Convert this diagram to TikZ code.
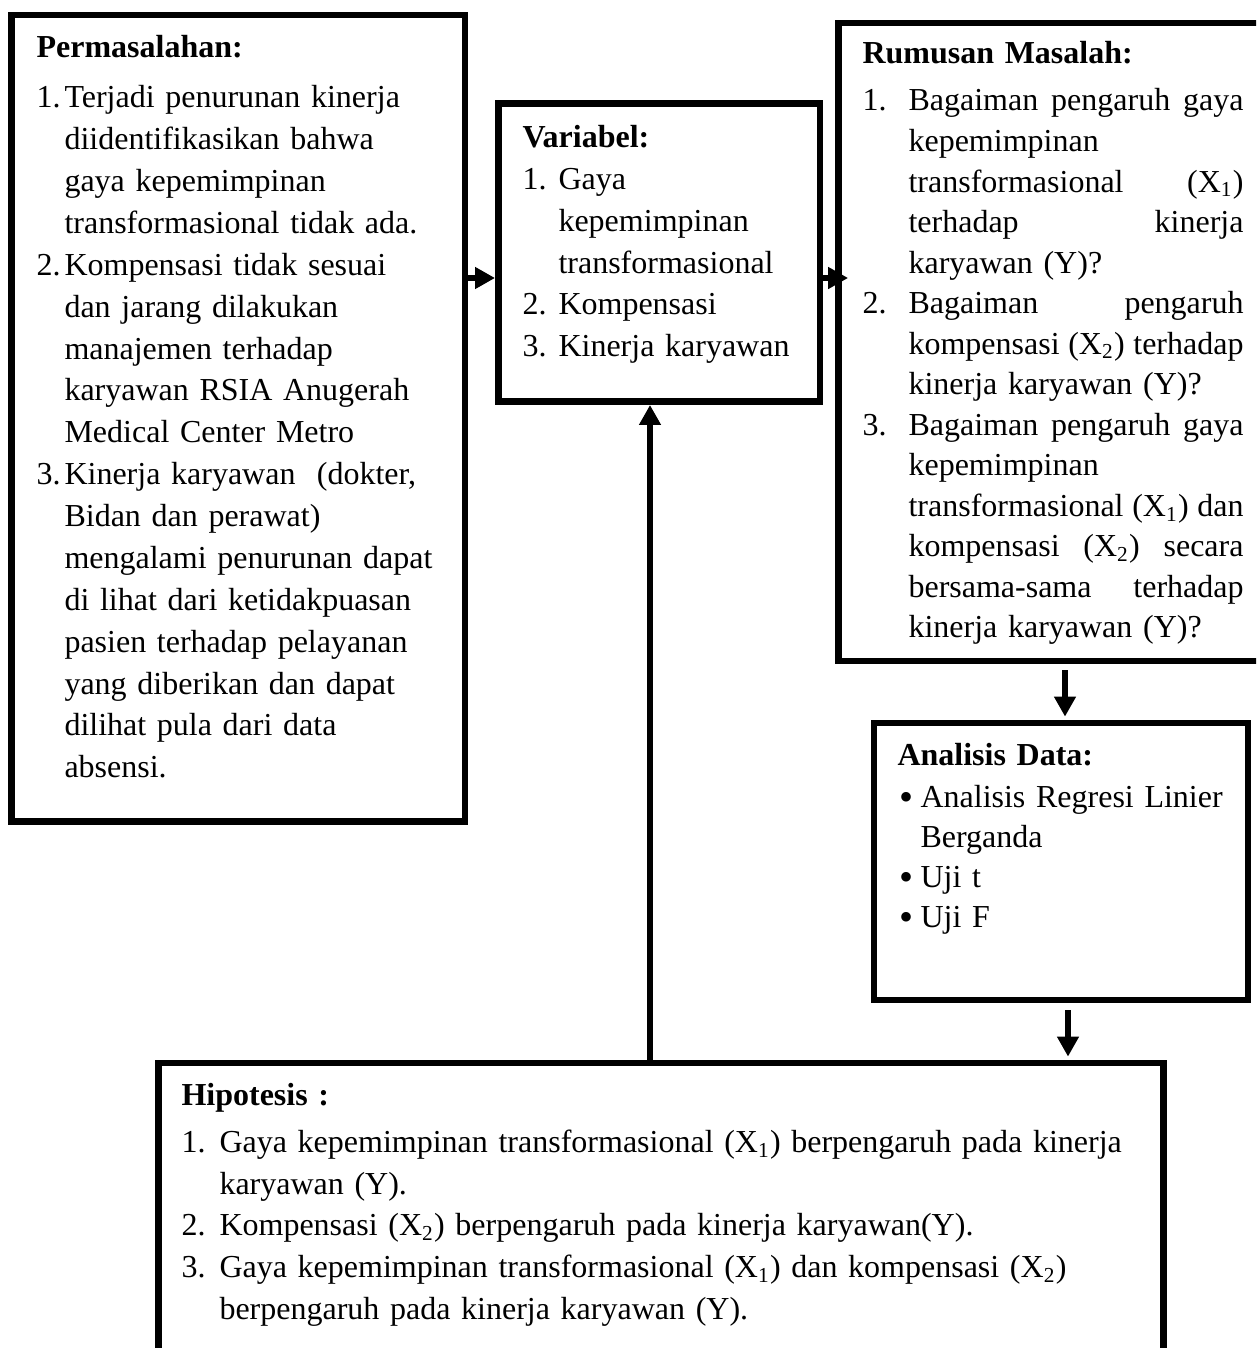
\documentclass[tikz,border=0pt]{standalone}
\usepackage{fontspec}
\setmainfont{Liberation Serif}
\usetikzlibrary{arrows.meta,calc}
\newdimen\kppx
\kppx=0.375pt
\newcommand{\kpitem}[3]{\hangindent=#1\hangafter=1\noindent\makebox[#1][l]{#2}#3\par}
\newcommand{\kpdot}{\hspace{2\kppx}{\fontsize{15pt}{15pt}\selectfont\raisebox{-0.9pt}{\textbullet}}}
\tikzset{
  kpbox/.style={
    draw=black,
    line width=2.6pt,
    inner sep=0pt
  },
  kptext/.style={
    inner sep=0pt,
    anchor=base west,
    text=black,
    font=\fontsize{12pt}{15.7pt}\selectfont
  },
  kparrow/.style={
    -{Triangle[length=7.5pt,width=7.8pt]},
    line width=1.9pt
  }
}
\begin{document}
\begin{tikzpicture}[x=0.375pt,y=-0.375pt]
  \useasboundingbox (0,0) rectangle (1256,1348);
  \clip (0,0) rectangle (1256,1348);

  \node[kpbox, minimum width=453.5*\kppx, minimum height=806.5*\kppx] (masalah) at (238.25,418.25) {};
  \node[kpbox, minimum width=321.5*\kppx, minimum height=298*\kppx] (variabel) at (659.25,252.5) {};
  \node[kpbox, minimum width=426.5*\kppx, minimum height=638*\kppx] (rumusan) at (1051.75,342) {};
  \node[kpbox, minimum width=374*\kppx, minimum height=277*\kppx] (analisis) at (1061,861.5) {};
  \node[kpbox, minimum width=1005*\kppx, minimum height=337*\kppx] (hipotesis) at (661,1231.5) {};

  \node[kptext, text width=420*\kppx] (masalahtext) at (36,58) {%
    \textbf{Permasalahan:}\par\vspace{3pt}
    \kpitem{28\kppx}{1.}{Terjadi penurunan kinerja\newline diidentifikasikan bahwa\newline gaya kepemimpinan\newline transformasional tidak ada.}
    \kpitem{28\kppx}{2.}{Kompensasi tidak sesuai\newline dan jarang dilakukan\newline manajemen terhadap\newline karyawan RSIA Anugerah\newline Medical Center Metro}
    \kpitem{28\kppx}{3.}{Kinerja karyawan~ (dokter,\newline Bidan dan perawat)\newline mengalami penurunan dapat\newline di lihat dari ketidakpuasan\newline pasien terhadap pelayanan\newline yang diberikan dan dapat\newline dilihat pula dari data\newline absensi.}
  };

  \node[kptext, font=\fontsize{12pt}{15.65pt}\selectfont, text width=290*\kppx] (variabeltext) at (522,148) {%
    \textbf{Variabel:}\par
    \kpitem{36\kppx}{1.}{Gaya\newline kepemimpinan\newline transformasional}
    \kpitem{36\kppx}{2.}{Kompensasi}
    \kpitem{36\kppx}{3.}{Kinerja karyawan}
  };

  \node[kptext, font=\fontsize{12pt}{15.2pt}\selectfont, text width=381*\kppx] (rumusantext) at (862,64) {%
    \textbf{Rumusan Masalah:}\par\vspace{2.4pt}
    \kpitem{46\kppx}{1.}{Bagaiman\hfill pengaruh\hfill gaya\newline kepemimpinan\newline transformasional\hfill (X\textsubscript{1})\newline terhadap\hfill kinerja\newline karyawan (Y)?}
    \kpitem{46\kppx}{2.}{Bagaiman\hfill pengaruh\newline kompensasi\hfill (X\textsubscript{2})\hfill terhadap\newline kinerja karyawan (Y)?}
    \kpitem{46\kppx}{3.}{Bagaiman\hfill pengaruh\hfill gaya\newline kepemimpinan\newline transformasional\hfill (X\textsubscript{1})\hfill dan\newline kompensasi\hfill (X\textsubscript{2})\hfill secara\newline bersama-sama\hfill terhadap\newline kinerja karyawan (Y)?}
  };

  \node[kptext, font=\fontsize{12pt}{15pt}\selectfont, text width=350*\kppx] (analisistext) at (897,765) {%
    \textbf{Analisis Data:}\par\vspace{1.1pt}
    \kpitem{23\kppx}{\kpdot}{Analisis Regresi Linier\newline Berganda}
    \kpitem{23\kppx}{\kpdot}{Uji t}
    \kpitem{23\kppx}{\kpdot}{Uji F}
  };

  \node[kptext, text width=980*\kppx] (hipotesistext) at (181,1105) {%
    \textbf{Hipotesis :}\par\vspace{2pt}
    \kpitem{38\kppx}{1.}{Gaya kepemimpinan transformasional (X\textsubscript{1}) berpengaruh pada kinerja\newline karyawan (Y).}
    \kpitem{38\kppx}{2.}{Kompensasi (X\textsubscript{2}) berpengaruh pada kinerja karyawan(Y).}
    \kpitem{38\kppx}{3.}{Gaya kepemimpinan transformasional (X\textsubscript{1}) dan kompensasi (X\textsubscript{2})\newline berpengaruh pada kinerja karyawan (Y).}
  };

  \draw[kparrow] (masalah.east |- 0,278) -- (variabel.west |- 0,278);
  \draw[kparrow, shorten >=-4.9pt] (variabel.east |- 0,278) -- (rumusan.west |- 0,278);
  \draw[kparrow, shorten <=2.2pt, shorten >=1.1pt] (1065,0 |- rumusan.south) -- (1065,0 |- analisis.north);
  \draw[kparrow, shorten <=2.6pt, shorten >=1.1pt] (1068,0 |- analisis.south) -- (1068,0 |- hipotesis.north);
  \draw[kparrow] (650,0 |- hipotesis.north) -- (650,0 |- variabel.south);
\end{tikzpicture}
\end{document}
